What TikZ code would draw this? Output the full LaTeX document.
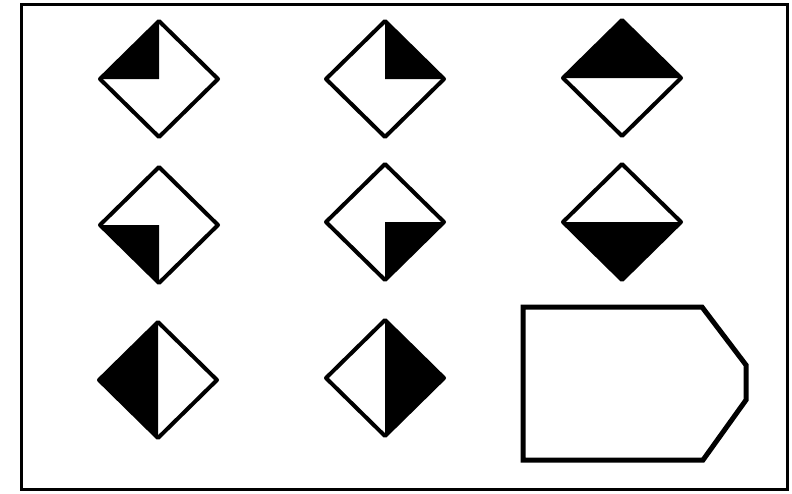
\documentclass[tikz,border=0pt]{standalone}
\usetikzlibrary{calc}
\begin{document}
\begin{tikzpicture}[x=1pt, y=-1pt,
  frame/.style={draw, line width=3pt},
  edge/.style={draw, line width=4pt, line join=round},
  half/.style={fill=black},
  tag/.style={draw, line width=5pt}
]
  \useasboundingbox (0,0) rectangle (792,493);
  \draw[frame] (21,4.5) rectangle (787,489.5);
  % diamonds: centre x/y and the three corners of the black part
  \foreach \cx/\cy/\p/\q/\r [count=\i] in {159/79/n/w/c, 385/79/n/e/c, 622/78/w/n/e,
      159/225/w/s/c, 385/222/e/s/c, 622/222/w/s/e, 158/380/n/w/s, 385/378/n/e/s}{
    \begin{scope}[shift={(\cx,\cy)}]
      \coordinate (n) at (0,-58);
      \coordinate (s) at (0,58);
      \coordinate (w) at (-59,0);
      \coordinate (e) at (59,0);
      \coordinate (c) at (0,0);
      \fill[half] (\p) -- (\q) -- (\r) -- cycle;
      \draw[edge] (n) -- (e) -- (s) -- (w) -- cycle;
    \end{scope}
  }
  % the empty tag
  \draw[tag] (523,307) -- (702,307) -- (746,365) -- (746,400) -- (703,460) -- (523,460) -- cycle;
\end{tikzpicture}
\end{document}
